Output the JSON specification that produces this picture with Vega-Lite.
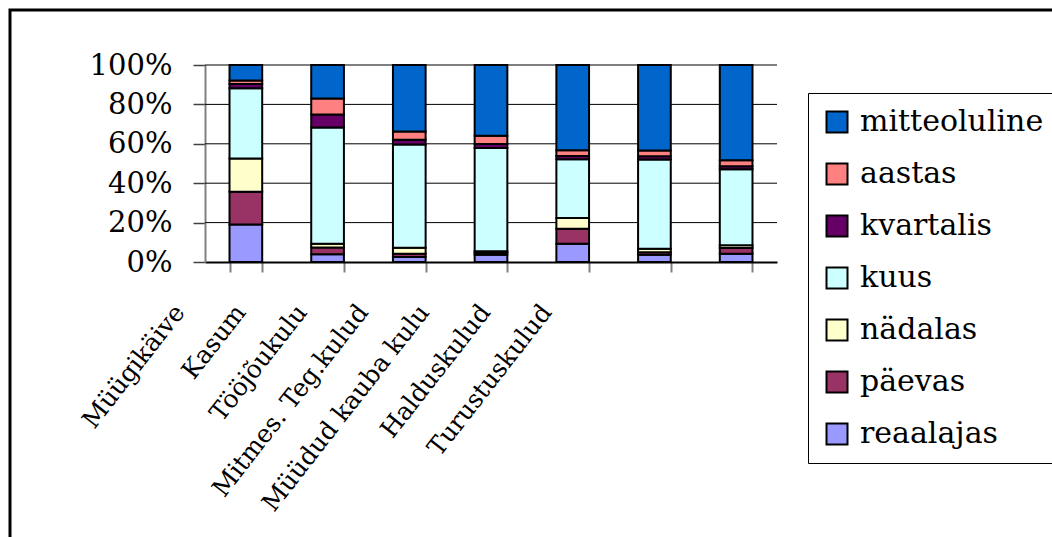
{
  "$schema": "https://vega.github.io/schema/vega-lite/v6.json",
  "width": 1042,
  "height": 527,
  "padding": {"left": 10, "top": 10, "right": 0, "bottom": 0},
  "autosize": {"type": "none"},
  "background": "white",
  "config": {
    "view": {"stroke": "black", "strokeWidth": 3, "strokeDash": [1042, 1569, 527]},
    "font": "DejaVu Serif"
  },
  "layer": [
    {
      "data": {"values": [{"pros": 0.2}, {"pros": 0.4}, {"pros": 0.6}, {"pros": 0.8}, {"pros": 1}]},
      "mark": {"type": "rule", "color": "black", "strokeWidth": 1},
      "encoding": {
        "y": {"field": "pros", "type": "quantitative"},
        "x": {"datum": 0, "type": "quantitative", "scale": {"domain": [0, 1], "range": [195, 767]}, "axis": null},
        "x2": {"datum": 1}
      }
    },
    {
      "data": {"values": [
        {"kulu": "Müügikäive", "sagedus": "reaalajas", "osa": 19, "jrk": 1},
        {"kulu": "Müügikäive", "sagedus": "päevas", "osa": 16.6, "jrk": 2},
        {"kulu": "Müügikäive", "sagedus": "nädalas", "osa": 17, "jrk": 3},
        {"kulu": "Müügikäive", "sagedus": "kuus", "osa": 35.6, "jrk": 4},
        {"kulu": "Müügikäive", "sagedus": "kvartalis", "osa": 2.2, "jrk": 5},
        {"kulu": "Müügikäive", "sagedus": "aastas", "osa": 1.7, "jrk": 6},
        {"kulu": "Müügikäive", "sagedus": "mitteoluline", "osa": 7.9, "jrk": 7},
        {"kulu": "Kasum", "sagedus": "reaalajas", "osa": 3.9, "jrk": 1},
        {"kulu": "Kasum", "sagedus": "päevas", "osa": 3.4, "jrk": 2},
        {"kulu": "Kasum", "sagedus": "nädalas", "osa": 2, "jrk": 3},
        {"kulu": "Kasum", "sagedus": "kuus", "osa": 59, "jrk": 4},
        {"kulu": "Kasum", "sagedus": "kvartalis", "osa": 6.6, "jrk": 5},
        {"kulu": "Kasum", "sagedus": "aastas", "osa": 8.1, "jrk": 6},
        {"kulu": "Kasum", "sagedus": "mitteoluline", "osa": 17, "jrk": 7},
        {"kulu": "Tööjõukulu", "sagedus": "reaalajas", "osa": 2.5, "jrk": 1},
        {"kulu": "Tööjõukulu", "sagedus": "päevas", "osa": 1.7, "jrk": 2},
        {"kulu": "Tööjõukulu", "sagedus": "nädalas", "osa": 3, "jrk": 3},
        {"kulu": "Tööjõukulu", "sagedus": "kuus", "osa": 52.5, "jrk": 4},
        {"kulu": "Tööjõukulu", "sagedus": "kvartalis", "osa": 2.4, "jrk": 5},
        {"kulu": "Tööjõukulu", "sagedus": "aastas", "osa": 4.2, "jrk": 6},
        {"kulu": "Tööjõukulu", "sagedus": "mitteoluline", "osa": 33.7, "jrk": 7},
        {"kulu": "Mitmes. Teg.kulud", "sagedus": "reaalajas", "osa": 3.7, "jrk": 1},
        {"kulu": "Mitmes. Teg.kulud", "sagedus": "päevas", "osa": 1, "jrk": 2},
        {"kulu": "Mitmes. Teg.kulud", "sagedus": "nädalas", "osa": 0.7, "jrk": 3},
        {"kulu": "Mitmes. Teg.kulud", "sagedus": "kuus", "osa": 52.5, "jrk": 4},
        {"kulu": "Mitmes. Teg.kulud", "sagedus": "kvartalis", "osa": 2, "jrk": 5},
        {"kulu": "Mitmes. Teg.kulud", "sagedus": "aastas", "osa": 4.2, "jrk": 6},
        {"kulu": "Mitmes. Teg.kulud", "sagedus": "mitteoluline", "osa": 35.9, "jrk": 7},
        {"kulu": "Müüdud kauba kulu", "sagedus": "reaalajas", "osa": 9.3, "jrk": 1},
        {"kulu": "Müüdud kauba kulu", "sagedus": "päevas", "osa": 7.6, "jrk": 2},
        {"kulu": "Müüdud kauba kulu", "sagedus": "nädalas", "osa": 5.4, "jrk": 3},
        {"kulu": "Müüdud kauba kulu", "sagedus": "kuus", "osa": 29.8, "jrk": 4},
        {"kulu": "Müüdud kauba kulu", "sagedus": "kvartalis", "osa": 1.7, "jrk": 5},
        {"kulu": "Müüdud kauba kulu", "sagedus": "aastas", "osa": 2.9, "jrk": 6},
        {"kulu": "Müüdud kauba kulu", "sagedus": "mitteoluline", "osa": 43.3, "jrk": 7},
        {"kulu": "Halduskulud", "sagedus": "reaalajas", "osa": 3.7, "jrk": 1},
        {"kulu": "Halduskulud", "sagedus": "päevas", "osa": 1.2, "jrk": 2},
        {"kulu": "Halduskulud", "sagedus": "nädalas", "osa": 1.8, "jrk": 3},
        {"kulu": "Halduskulud", "sagedus": "kuus", "osa": 45.3, "jrk": 4},
        {"kulu": "Halduskulud", "sagedus": "kvartalis", "osa": 1.7, "jrk": 5},
        {"kulu": "Halduskulud", "sagedus": "aastas", "osa": 2.9, "jrk": 6},
        {"kulu": "Halduskulud", "sagedus": "mitteoluline", "osa": 43.4, "jrk": 7},
        {"kulu": "Turustuskulud", "sagedus": "reaalajas", "osa": 4.2, "jrk": 1},
        {"kulu": "Turustuskulud", "sagedus": "päevas", "osa": 2.9, "jrk": 2},
        {"kulu": "Turustuskulud", "sagedus": "nädalas", "osa": 1.4, "jrk": 3},
        {"kulu": "Turustuskulud", "sagedus": "kuus", "osa": 38.6, "jrk": 4},
        {"kulu": "Turustuskulud", "sagedus": "kvartalis", "osa": 1.5, "jrk": 5},
        {"kulu": "Turustuskulud", "sagedus": "aastas", "osa": 3, "jrk": 6},
        {"kulu": "Turustuskulud", "sagedus": "mitteoluline", "osa": 48.4, "jrk": 7}
      ]},
      "mark": {"type": "bar", "stroke": "black", "strokeWidth": 2},
      "encoding": {
        "x": {
          "field": "kulu", "type": "nominal", "sort": null,
          "scale": {"range": [195, 767], "paddingInner": 0.6, "paddingOuter": 0.3},
          "axis": {"orient": "bottom", "offset": -275, "labels": false, "title": null, "tickBand": "extent", "tickSize": 10, "tickColor": "#808080", "tickWidth": 2, "domainColor": "black", "domainWidth": 2}
        },
        "y": {
          "field": "osa", "type": "quantitative", "stack": "normalize",
          "scale": {"domain": [0, 1], "range": [252, 55], "nice": false},
          "axis": {"orient": "left", "offset": -195, "values": [0, 0.2, 0.4, 0.6, 0.8, 1], "format": ".0%", "grid": false, "title": null, "tickSize": 12, "tickColor": "#404040", "tickWidth": 1.5, "domainColor": "#808080", "domainWidth": 2, "labelFont": "DejaVu Serif", "labelFontSize": 29, "labelColor": "black", "labelPadding": 21}
        },
        "color": {
          "field": "sagedus", "type": "nominal",
          "scale": {
            "domain": ["mitteoluline", "aastas", "kvartalis", "kuus", "nädalas", "päevas", "reaalajas"],
            "range": ["#0066CC", "#FF8080", "#660066", "#CCFFFF", "#FFFFCC", "#993366", "#9999FF"]
          },
          "legend": {
            "orient": "none", "legendX": 798, "legendY": 83, "title": null,
            "symbolType": "square", "symbolSize": 441, "symbolStrokeColor": "black", "symbolStrokeWidth": 2, "symbolOpacity": 1,
            "labelFont": "DejaVu Serif", "labelFontSize": 30, "labelColor": "black", "labelOffset": 8, "labelLimit": 400,
            "rowPadding": 22, "padding": 14, "strokeColor": "black", "fillColor": "white"
          }
        },
        "order": {"field": "jrk", "type": "quantitative"}
      }
    },
    {
      "data": {"values": [
        {"kulu": "Müügikäive"}, {"kulu": "Kasum"}, {"kulu": "Tööjõukulu"}, {"kulu": "Mitmes. Teg.kulud"},
        {"kulu": "Müüdud kauba kulu"}, {"kulu": "Halduskulud"}, {"kulu": "Turustuskulud"}
      ]},
      "mark": {"type": "text", "angle": 308, "align": "right", "baseline": "top", "font": "DejaVu Serif", "fontSize": 25, "color": "black"},
      "encoding": {
        "x": {"field": "kulu", "type": "nominal", "sort": null, "scale": {"type": "point", "range": [160, 527], "padding": 0}, "axis": null},
        "y": {"datum": -0.195, "type": "quantitative"},
        "text": {"field": "kulu"}
      }
    }
  ],
  "resolve": {"scale": {"x": "independent"}}
}
